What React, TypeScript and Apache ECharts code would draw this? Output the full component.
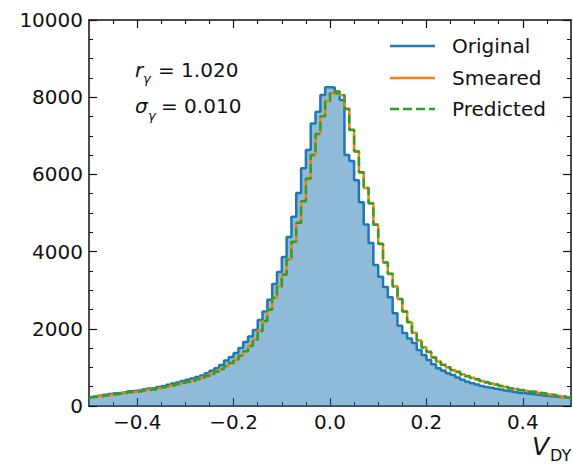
import React, { useEffect, useRef } from "react";
import * as echarts from "echarts";

// Histogram bins: 100 bins of width 0.01 from -0.5 to 0.5 (values are bin contents, left to right)
const BIN_LO = -0.5;
const BIN_W = 0.01;

const original = [
  230, 250, 270, 290, 310, 330, 345, 360, 380, 395,
  410, 430, 455, 470, 490, 510, 550, 580, 610, 650,
  680, 710, 750, 790, 850, 910, 980, 1060, 1180, 1270,
  1370, 1500, 1660, 1800, 1970, 2230, 2450, 2750, 3160, 3470,
  3860, 4380, 4900, 5520, 6160, 6630, 7320, 7620, 8060, 8260,
  8250, 8100, 7930, 6500, 6350, 5850, 5280, 4700, 4220, 3650,
  3350, 3080, 2820, 2400, 2080, 1890, 1750, 1630, 1450, 1320,
  1190, 1080, 980, 920, 850, 800, 740, 680, 630, 590,
  560, 520, 495, 470, 450, 425, 400, 380, 360, 340,
  325, 310, 295, 280, 265, 255, 240, 230, 220, 210,
];

const smeared = [
  220, 240, 260, 275, 290, 310, 325, 340, 355, 370,
  385, 400, 420, 440, 460, 480, 510, 540, 570, 595,
  620, 650, 690, 730, 780, 830, 890, 960, 1030, 1110,
  1200, 1300, 1420, 1560, 1720, 1950, 2200, 2500, 2800, 3100,
  3400, 3800, 4250, 4750, 5300, 5900, 6500, 7050, 7500, 7900,
  8100, 8150, 8050, 7700, 7150, 6600, 6050, 5650, 5250, 4700,
  4200, 3720, 3420, 3100, 2770, 2450, 2170, 1900, 1700, 1520,
  1400, 1260, 1150, 1070, 1000, 930, 880, 820, 770, 730,
  690, 650, 610, 580, 550, 520, 490, 460, 440, 415,
  395, 375, 360, 340, 320, 300, 280, 260, 240, 220,
];

const predicted = [
  225, 240, 255, 275, 295, 310, 320, 340, 360, 370,
  385, 405, 420, 435, 460, 485, 510, 535, 570, 600,
  620, 645, 690, 735, 775, 830, 895, 955, 1030, 1115,
  1195, 1305, 1420, 1555, 1725, 1945, 2205, 2495, 2805, 3095,
  3405, 3795, 4255, 4745, 5305, 5895, 6505, 7045, 7505, 7895,
  8105, 8145, 8055, 7695, 7155, 6595, 6055, 5645, 5255, 4695,
  4205, 3715, 3425, 3095, 2775, 2445, 2175, 1895, 1705, 1515,
  1405, 1255, 1155, 1065, 1005, 925, 885, 815, 775, 725,
  695, 645, 615, 575, 555, 515, 495, 455, 445, 410,
  400, 370, 365, 335, 325, 295, 285, 255, 245, 215,
];

const xMajorTicks = [-0.4, -0.2, 0.0, 0.2, 0.4];
const xMinorTicks = [-0.45, -0.35, -0.3, -0.25, -0.15, -0.1, -0.05, 0.05, 0.1, 0.15, 0.25, 0.3, 0.35, 0.45];
const yMax = 10000;
const yStep = 2000;

const seriesNames = ["Original", "Smeared", "Predicted"];
const COLORS = { blue: "#1f77b4", orange: "#ff7f0e", green: "#2ca02c" };
const FONT = '"DejaVu Sans", "Noto Sans", sans-serif';

function toSteps(values: number[]) {
  const pts: [number, number][] = values.map((v, i) => [
    Number((BIN_LO + i * BIN_W).toFixed(2)),
    v,
  ]);
  pts.push([Number((BIN_LO + values.length * BIN_W).toFixed(2)), values[values.length - 1]]);
  return pts;
}

const fmtX = (v: number) => {
  const s = Math.abs(v).toFixed(1);
  return v < -1e-9 ? "\u2212" + s : s;
};

export default function App() {
  const ref = useRef<HTMLDivElement>(null);

  useEffect(() => {
    if (!ref.current) return;
    const chart = echarts.init(ref.current, null, { renderer: "svg" });
    const axisLineStyle = { color: "#111", width: 1.5 };
    const baseX = {
      type: "value" as const,
      min: -0.5,
      max: 0.5,
      splitLine: { show: false },
    };
    const baseY = {
      type: "value" as const,
      min: 0,
      max: yMax,
      interval: yStep,
      splitLine: { show: false },
    };
    chart.setOption({
      animation: false,
      backgroundColor: "#ffffff",
      grid: { left: 89, top: 20, width: 482, height: 386, containLabel: false },
      xAxis: [
        {
          ...baseX,
          position: "bottom",
          axisLine: { show: true, onZero: false, lineStyle: axisLineStyle },
          axisTick: { show: true, inside: true, length: 8, customValues: xMajorTicks, lineStyle: { color: "#111", width: 1.2 } },
          axisLabel: {
            show: true,
            customValues: xMajorTicks,
            formatter: fmtX,
            fontSize: 20,
            fontFamily: FONT,
            color: "#111",
            margin: 6,
          },
        },
        {
          ...baseX,
          position: "bottom",
          axisLine: { show: false, onZero: false },
          axisTick: { show: true, inside: true, length: 4, customValues: xMinorTicks, lineStyle: { color: "#111", width: 1 } },
          axisLabel: { show: false },
        },
        {
          ...baseX,
          position: "top",
          axisLine: { show: true, onZero: false, lineStyle: axisLineStyle },
          axisTick: { show: true, inside: true, length: 8, customValues: xMajorTicks, lineStyle: { color: "#111", width: 1.2 } },
          axisLabel: { show: false },
        },
        {
          ...baseX,
          position: "top",
          axisLine: { show: false, onZero: false },
          axisTick: { show: true, inside: true, length: 4, customValues: xMinorTicks, lineStyle: { color: "#111", width: 1 } },
          axisLabel: { show: false },
        },
      ],
      yAxis: [
        {
          ...baseY,
          position: "left",
          axisLine: { show: true, onZero: false, lineStyle: axisLineStyle },
          axisTick: { show: true, inside: true, length: 8, lineStyle: { color: "#111", width: 1.2 } },
          minorTick: { show: true, splitNumber: 4, length: 4, lineStyle: { color: "#111", width: 1 } },
          axisLabel: {
            show: true,
            fontSize: 20,
            fontFamily: FONT,
            color: "#111",
            margin: 6,
            formatter: (v: number) => String(v),
          },
        },
        {
          ...baseY,
          position: "right",
          axisLine: { show: true, onZero: false, lineStyle: axisLineStyle },
          axisTick: { show: true, inside: true, length: 8, lineStyle: { color: "#111", width: 1.2 } },
          minorTick: { show: true, splitNumber: 4, length: 4, lineStyle: { color: "#111", width: 1 } },
          axisLabel: { show: false },
        },
      ],
      series: [
        {
          name: seriesNames[0],
          type: "line",
          step: "end",
          data: toSteps(original),
          showSymbol: false,
          symbol: "none",
          lineStyle: { color: COLORS.blue, width: 2.5 },
          areaStyle: { color: COLORS.blue, opacity: 0.5, origin: "start" },
          z: 2,
        },
        {
          name: seriesNames[1],
          type: "line",
          step: "end",
          data: toSteps(smeared),
          showSymbol: false,
          symbol: "none",
          lineStyle: { color: COLORS.orange, width: 2.5 },
          z: 3,
        },
        {
          name: seriesNames[2],
          type: "line",
          step: "end",
          data: toSteps(predicted),
          showSymbol: false,
          symbol: "none",
          lineStyle: { color: COLORS.green, width: 2.5, type: [9, 4] },
          z: 4,
        },
      ],
      graphic: [
        // legend
        { type: "line", shape: { x1: 390, y1: 46, x2: 435, y2: 46 }, style: { stroke: COLORS.blue, lineWidth: 2.5 } },
        { type: "line", shape: { x1: 390, y1: 78, x2: 435, y2: 78 }, style: { stroke: COLORS.orange, lineWidth: 2.5 } },
        { type: "line", shape: { x1: 390, y1: 109, x2: 435, y2: 109 }, style: { stroke: COLORS.green, lineWidth: 2.5, lineDash: [9, 4] } },
        { type: "text", x: 452, y: 46, style: { text: seriesNames[0], fontSize: 20, fontFamily: FONT, fill: "#111", verticalAlign: "middle", align: "left" } },
        { type: "text", x: 452, y: 78, style: { text: seriesNames[1], fontSize: 20, fontFamily: FONT, fill: "#111", verticalAlign: "middle", align: "left" } },
        { type: "text", x: 452, y: 109, style: { text: seriesNames[2], fontSize: 20, fontFamily: FONT, fill: "#111", verticalAlign: "middle", align: "left" } },
        // annotation r_gamma
        { type: "text", x: 135, y: 70, style: { text: "r", fontSize: 20, fontStyle: "italic", fontFamily: FONT, fill: "#111", verticalAlign: "middle" } },
        { type: "text", x: 143, y: 78, style: { text: "\u03b3", fontSize: 13, fontStyle: "italic", fontFamily: FONT, fill: "#111", verticalAlign: "middle" } },
        { type: "text", x: 158, y: 70, style: { text: "= 1.020", fontSize: 20, fontFamily: FONT, fill: "#111", verticalAlign: "middle" } },
        // annotation sigma_gamma
        { type: "text", x: 135, y: 106, style: { text: "\u03c3", fontSize: 20, fontStyle: "italic", fontFamily: FONT, fill: "#111", verticalAlign: "middle" } },
        { type: "text", x: 148, y: 115, style: { text: "\u03b3", fontSize: 13, fontStyle: "italic", fontFamily: FONT, fill: "#111", verticalAlign: "middle" } },
        { type: "text", x: 161, y: 106, style: { text: "= 0.010", fontSize: 20, fontFamily: FONT, fill: "#111", verticalAlign: "middle" } },
        // x axis title V_DY
        { type: "text", x: 532, y: 446, style: { text: "V", fontSize: 25, fontStyle: "italic", fontFamily: FONT, fill: "#111", verticalAlign: "middle" } },
        { type: "text", x: 550, y: 455, style: { text: "DY", fontSize: 16, fontFamily: FONT, fill: "#111", verticalAlign: "middle" } },
      ],
    });
    return () => chart.dispose();
  }, []);

  return (
    <div
      ref={ref}
      style={{ position: "fixed", left: 0, top: 0, width: 573, height: 464, background: "#fff" }}
    />
  );
}
